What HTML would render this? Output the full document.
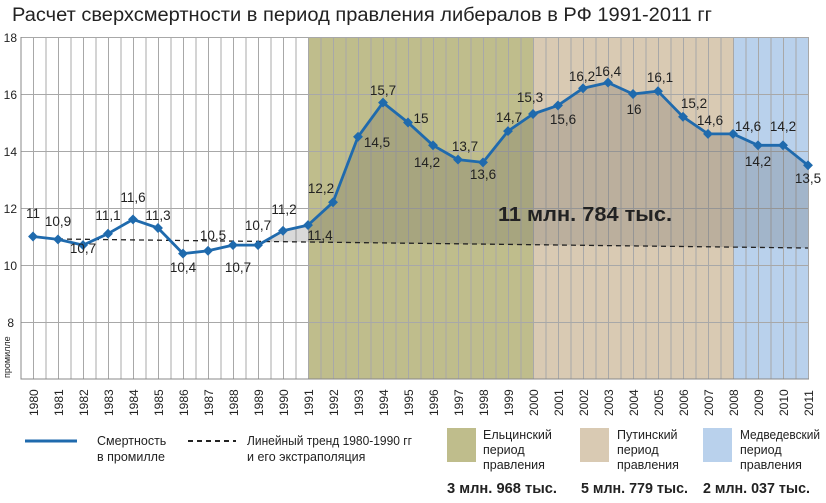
<!DOCTYPE html>
<html><head><meta charset="utf-8"><style>
body{margin:0;background:#fff}
svg text{font-family:"Liberation Sans","DejaVu Sans",sans-serif;fill:#222}
</style></head><body>
<svg width="826" height="498" viewBox="0 0 826 498" xmlns="http://www.w3.org/2000/svg">
<rect width="826" height="498" fill="#fff"/>
<text x="12" y="21" font-size="19" fill="#222" textLength="700" lengthAdjust="spacingAndGlyphs">Расчет сверхсмертности в период правления либералов в РФ 1991-2011 гг</text>
<rect x="308" y="37" width="225" height="342" fill="#bfbd8c"/>
<rect x="533" y="37" width="200" height="342" fill="#d9cab3"/>
<rect x="733" y="37" width="75" height="342" fill="#b9d1ec"/>
<g stroke="#a8a8a8" stroke-width="1">
<path d="M33.5 37V379M46 37V379M58.5 37V379M71 37V379M83.5 37V379M96 37V379M108.5 37V379M121 37V379M133.5 37V379M146 37V379M158.5 37V379M171 37V379M183.5 37V379M196 37V379M208.5 37V379M221 37V379M233.5 37V379M246 37V379M258.5 37V379M271 37V379M283.5 37V379M296 37V379M308.5 37V379M321 37V379M333.5 37V379M346 37V379M358.5 37V379M371 37V379M383.5 37V379M396 37V379M408.5 37V379M421 37V379M433.5 37V379M446 37V379M458.5 37V379M471 37V379M483.5 37V379M496 37V379M508.5 37V379M521 37V379M533.5 37V379M546 37V379M558.5 37V379M571 37V379M583.5 37V379M596 37V379M608.5 37V379M621 37V379M633.5 37V379M646 37V379M658.5 37V379M671 37V379M683.5 37V379M696 37V379M708.5 37V379M721 37V379M733.5 37V379M746 37V379M758.5 37V379M771 37V379M783.5 37V379M796 37V379M808.5 37V379"/>
<path d="M21 37.5H809M21 94.5H809M21 151.5H809M21 208.5H809M21 265.5H809M21 322.5H809"/>
</g>
<path d="M21 37V379H809" stroke="#888" fill="none"/>
<polygon points="264,241.6 283,230.8 308,225.1 333,202.3 358,136.8 383,102.6 408,122.5 433,145.3 458,159.6 483,162.4 508,131.1 533,114 558,105.4 583,88.3 608,82.6 633,94 658,91.2 683,116.8 708,133.9 733,133.9 758,145.3 783,145.3 808,165.3 808,248" fill="rgba(80,80,80,0.22)"/>
<line x1="58" y1="239" x2="808" y2="248" stroke="#222" stroke-width="1.3" stroke-dasharray="5,4"/>
<polyline points="33,236.5 58,239.4 83,245.1 108,233.7 133,219.4 158,228 183,253.6 208,250.8 233,245.1 258,245.1 283,230.8 308,225.1 333,202.3 358,136.8 383,102.6 408,122.5 433,145.3 458,159.6 483,162.4 508,131.1 533,114 558,105.4 583,88.3 608,82.6 633,94 658,91.2 683,116.8 708,133.9 733,133.9 758,145.3 783,145.3 808,165.3" fill="none" stroke="#1f6aad" stroke-width="2.8" stroke-linejoin="round"/>
<g fill="#1f6aad">
<rect x="-3.5" y="-3.5" width="7" height="7" transform="translate(33,236.5) rotate(45)"/>
<rect x="-3.5" y="-3.5" width="7" height="7" transform="translate(58,239.4) rotate(45)"/>
<rect x="-3.5" y="-3.5" width="7" height="7" transform="translate(83,245.1) rotate(45)"/>
<rect x="-3.5" y="-3.5" width="7" height="7" transform="translate(108,233.7) rotate(45)"/>
<rect x="-3.5" y="-3.5" width="7" height="7" transform="translate(133,219.4) rotate(45)"/>
<rect x="-3.5" y="-3.5" width="7" height="7" transform="translate(158,228) rotate(45)"/>
<rect x="-3.5" y="-3.5" width="7" height="7" transform="translate(183,253.6) rotate(45)"/>
<rect x="-3.5" y="-3.5" width="7" height="7" transform="translate(208,250.8) rotate(45)"/>
<rect x="-3.5" y="-3.5" width="7" height="7" transform="translate(233,245.1) rotate(45)"/>
<rect x="-3.5" y="-3.5" width="7" height="7" transform="translate(258,245.1) rotate(45)"/>
<rect x="-3.5" y="-3.5" width="7" height="7" transform="translate(283,230.8) rotate(45)"/>
<rect x="-3.5" y="-3.5" width="7" height="7" transform="translate(308,225.1) rotate(45)"/>
<rect x="-3.5" y="-3.5" width="7" height="7" transform="translate(333,202.3) rotate(45)"/>
<rect x="-3.5" y="-3.5" width="7" height="7" transform="translate(358,136.8) rotate(45)"/>
<rect x="-3.5" y="-3.5" width="7" height="7" transform="translate(383,102.6) rotate(45)"/>
<rect x="-3.5" y="-3.5" width="7" height="7" transform="translate(408,122.5) rotate(45)"/>
<rect x="-3.5" y="-3.5" width="7" height="7" transform="translate(433,145.3) rotate(45)"/>
<rect x="-3.5" y="-3.5" width="7" height="7" transform="translate(458,159.6) rotate(45)"/>
<rect x="-3.5" y="-3.5" width="7" height="7" transform="translate(483,162.4) rotate(45)"/>
<rect x="-3.5" y="-3.5" width="7" height="7" transform="translate(508,131.1) rotate(45)"/>
<rect x="-3.5" y="-3.5" width="7" height="7" transform="translate(533,114) rotate(45)"/>
<rect x="-3.5" y="-3.5" width="7" height="7" transform="translate(558,105.4) rotate(45)"/>
<rect x="-3.5" y="-3.5" width="7" height="7" transform="translate(583,88.3) rotate(45)"/>
<rect x="-3.5" y="-3.5" width="7" height="7" transform="translate(608,82.6) rotate(45)"/>
<rect x="-3.5" y="-3.5" width="7" height="7" transform="translate(633,94) rotate(45)"/>
<rect x="-3.5" y="-3.5" width="7" height="7" transform="translate(658,91.2) rotate(45)"/>
<rect x="-3.5" y="-3.5" width="7" height="7" transform="translate(683,116.8) rotate(45)"/>
<rect x="-3.5" y="-3.5" width="7" height="7" transform="translate(708,133.9) rotate(45)"/>
<rect x="-3.5" y="-3.5" width="7" height="7" transform="translate(733,133.9) rotate(45)"/>
<rect x="-3.5" y="-3.5" width="7" height="7" transform="translate(758,145.3) rotate(45)"/>
<rect x="-3.5" y="-3.5" width="7" height="7" transform="translate(783,145.3) rotate(45)"/>
<rect x="-3.5" y="-3.5" width="7" height="7" transform="translate(808,165.3) rotate(45)"/>
</g>
<g font-size="12" text-anchor="end">
<text x="17" y="42">18</text><text x="17" y="99">16</text><text x="17" y="156">14</text><text x="17" y="213">12</text><text x="17" y="270">10</text><text x="14" y="327">8</text>
</g>
<text font-size="9" transform="translate(10,378) rotate(-90)">промилле</text>
<g font-size="13.5" text-anchor="middle">
<text x="33" y="218">11</text><text x="58" y="226">10,9</text><text x="83" y="253">10,7</text><text x="108" y="220">11,1</text><text x="133" y="202">11,6</text><text x="158" y="220">11,3</text><text x="183" y="272">10,4</text><text x="213" y="240">10,5</text><text x="238" y="272">10,7</text><text x="258" y="230">10,7</text><text x="284" y="214">11,2</text><text x="320" y="240">11,4</text><text x="321" y="193">12,2</text><text x="377" y="147">14,5</text><text x="383" y="95">15,7</text><text x="421" y="123">15</text><text x="427" y="167">14,2</text><text x="465" y="151">13,7</text><text x="483" y="179">13,6</text><text x="509" y="122">14,7</text><text x="530" y="102">15,3</text><text x="563" y="124">15,6</text><text x="582" y="81">16,2</text><text x="608" y="76">16,4</text><text x="634" y="114">16</text><text x="660" y="82">16,1</text><text x="694" y="108">15,2</text><text x="710" y="125">14,6</text><text x="748" y="131">14,6</text><text x="758" y="166">14,2</text><text x="783" y="131">14,2</text><text x="808" y="183">13,5</text>
</g>
<text x="498" y="221" font-size="20" font-weight="bold" textLength="174" lengthAdjust="spacingAndGlyphs">11 млн. 784 тыс.</text>
<g font-size="12">
<text transform="translate(38,416) rotate(-90)">1980</text><text transform="translate(63,416) rotate(-90)">1981</text><text transform="translate(88,416) rotate(-90)">1982</text><text transform="translate(113,416) rotate(-90)">1983</text><text transform="translate(138,416) rotate(-90)">1984</text><text transform="translate(163,416) rotate(-90)">1985</text><text transform="translate(188,416) rotate(-90)">1986</text><text transform="translate(213,416) rotate(-90)">1987</text><text transform="translate(238,416) rotate(-90)">1988</text><text transform="translate(263,416) rotate(-90)">1989</text><text transform="translate(288,416) rotate(-90)">1990</text><text transform="translate(313,416) rotate(-90)">1991</text><text transform="translate(338,416) rotate(-90)">1992</text><text transform="translate(363,416) rotate(-90)">1993</text><text transform="translate(388,416) rotate(-90)">1994</text><text transform="translate(413,416) rotate(-90)">1995</text><text transform="translate(438,416) rotate(-90)">1996</text><text transform="translate(463,416) rotate(-90)">1997</text><text transform="translate(488,416) rotate(-90)">1998</text><text transform="translate(513,416) rotate(-90)">1999</text><text transform="translate(538,416) rotate(-90)">2000</text><text transform="translate(563,416) rotate(-90)">2001</text><text transform="translate(588,416) rotate(-90)">2002</text><text transform="translate(613,416) rotate(-90)">2003</text><text transform="translate(638,416) rotate(-90)">2004</text><text transform="translate(663,416) rotate(-90)">2005</text><text transform="translate(688,416) rotate(-90)">2006</text><text transform="translate(713,416) rotate(-90)">2007</text><text transform="translate(738,416) rotate(-90)">2008</text><text transform="translate(763,416) rotate(-90)">2009</text><text transform="translate(788,416) rotate(-90)">2010</text><text transform="translate(813,416) rotate(-90)">2011</text>
</g>
<line x1="25" y1="441" x2="77" y2="441" stroke="#1f6aad" stroke-width="3"/>
<line x1="188" y1="441" x2="236" y2="441" stroke="#222" stroke-width="2" stroke-dasharray="5,4"/>
<rect x="447" y="428" width="29" height="34" fill="#bfbd8c"/>
<rect x="580" y="428" width="29" height="34" fill="#d9cab3"/>
<rect x="703" y="428" width="29" height="34" fill="#b9d1ec"/>
<g font-size="12.5">
<text x="97" y="445">Смертность</text><text x="97" y="461">в промилле</text>
<text x="247" y="445" textLength="165" lengthAdjust="spacingAndGlyphs">Линейный тренд 1980-1990 гг</text><text x="247" y="461">и его экстраполяция</text>
<text x="483" y="439">Ельцинский</text><text x="483" y="454">период</text><text x="483" y="469">правления</text>
<text x="617" y="439">Путинский</text><text x="617" y="454">период</text><text x="617" y="469">правления</text>
<text x="740" y="439" textLength="80" lengthAdjust="spacingAndGlyphs">Медведевский</text><text x="740" y="454">период</text><text x="740" y="469">правления</text>
</g>
<g font-size="15" font-weight="bold">
<text x="447" y="493" textLength="110" lengthAdjust="spacingAndGlyphs">3 млн. 968 тыс.</text><text x="581" y="493" textLength="107" lengthAdjust="spacingAndGlyphs">5 млн. 779 тыс.</text><text x="703" y="493" textLength="107" lengthAdjust="spacingAndGlyphs">2 млн. 037 тыс.</text>
</g>
</svg>
</body></html>
